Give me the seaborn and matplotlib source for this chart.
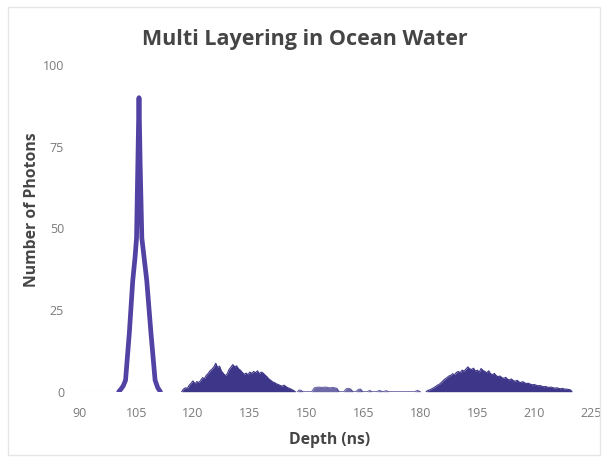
import numpy as np
import pandas as pd
import matplotlib
matplotlib.use("Agg")
import matplotlib.pyplot as plt
from matplotlib.patches import Rectangle
import seaborn as sns

# Surface return: a sharp single peak
spike_depth = [100.4, 101.0, 101.6, 102.2, 103.2, 104.1, 104.7, 105.1, 105.45, 105.75,
               106.05, 106.5, 107.2, 107.8, 108.9, 110.0, 110.7, 111.4]
spike_photons = [0.0, 0.8, 1.8, 3.5, 18.0, 34.0, 41.0, 47.0, 70.0, 90.0,
                 70.0, 47.0, 40.0, 34.0, 18.0, 3.5, 1.2, 0.0]

# First scattering layer (117 - 147 ns, 0.5 ns bins)
layer1_start, layer1_step = 117.0, 0.5
layer1_photons = [0.0, 0.8, 1.2, 1.0, 2.0, 2.6, 3.3, 2.4, 3.1, 2.8,
                  3.4, 4.3, 4.0, 5.0, 5.6, 6.4, 6.9, 7.6, 8.7, 7.4,
                  7.8, 6.3, 5.6, 4.9, 5.4, 6.8, 7.5, 8.3, 7.6, 7.9,
                  7.0, 6.6, 5.9, 5.3, 5.7, 5.2, 6.0, 5.6, 6.2, 5.8,
                  6.4, 5.5, 6.0, 5.7, 5.1, 4.6, 3.9, 3.5, 3.0, 2.8,
                  2.4, 2.2, 1.9, 1.7, 2.0, 1.6, 1.2, 1.0, 0.7, 0.4,
                  0.0]

# Sparse returns between the layers
sparse_depth = [147.5, 148.0, 148.5, 149.0, 151.3, 152.0, 153.0, 154.0, 155.0, 156.0,
                157.0, 158.0, 158.5, 159.8, 160.4, 161.0, 161.6, 162.2, 163.0, 163.6,
                164.2, 164.8, 166.0, 166.6, 167.2, 168.5, 169.2, 170.0, 171.0, 171.6,
                178.5, 179.2, 180.0]
sparse_photons = [0.0, 0.5, 0.4, 0.0, 0.0, 1.2, 1.4, 1.3, 1.4, 1.2,
                  1.3, 1.0, 0.0, 0.0, 0.9, 1.0, 0.8, 0.0, 0.0, 0.7,
                  0.8, 0.0, 0.0, 0.4, 0.0, 0.0, 0.4, 0.0, 0.3, 0.0,
                  0.0, 0.4, 0.0]

# Second scattering layer (181.5 - 220 ns, 0.5 ns bins)
layer2_start, layer2_step = 181.5, 0.5
layer2_photons = [0.0, 0.4, 0.6, 0.9, 1.2, 1.6, 2.0, 2.3, 2.8, 3.4,
                  3.9, 4.3, 4.8, 5.0, 5.5, 5.2, 5.9, 6.2, 5.8, 6.6,
                  6.3, 6.9, 7.6, 7.0, 6.8, 7.2, 6.3, 6.6, 6.0, 7.1,
                  6.5, 6.2, 5.8, 6.4, 5.5, 5.2, 5.6, 4.9, 4.6, 4.8,
                  4.3, 4.1, 4.4, 3.8, 3.6, 3.9, 3.4, 3.2, 3.5, 3.0,
                  2.8, 3.1, 2.7, 2.5, 2.6, 2.3, 2.1, 2.2, 2.0, 1.8,
                  1.9, 1.7, 1.5, 1.6, 1.4, 1.3, 1.4, 1.2, 1.1, 1.2,
                  1.0, 0.9, 1.0, 0.8, 0.8, 0.7, 0.6, 0.0]

x_ticks = [90, 105, 120, 135, 150, 165, 180, 195, 210, 225]
y_ticks = [0, 25, 50, 75, 100]

layer1_depth = layer1_start + layer1_step * np.arange(len(layer1_photons))
layer2_depth = layer2_start + layer2_step * np.arange(len(layer2_photons))

sns.set_style("white")
plt.rcParams["font.family"] = ["Open Sans", "DejaVu Sans"]

W, H = 605, 462
fig = plt.figure(figsize=(W / 100, H / 100), dpi=100)
ax = fig.add_axes([79.3 / W, 1 - 391.7 / H, (591 - 79.3) / W, (391.7 - 65) / H])

fill_col = "#3d3689"
spike_col = "#5142a3"

for depth, counts, alpha in [(layer1_depth, layer1_photons, 1.0),
                             (sparse_depth, sparse_photons, 0.75),
                             (layer2_depth, layer2_photons, 1.0)]:
    df = pd.DataFrame({"depth": depth, "photons": counts})
    ax.fill_between(df["depth"], 0, df["photons"], color=fill_col, alpha=alpha, lw=0)
    sns.lineplot(data=df, x="depth", y="photons", ax=ax, color=fill_col,
                 lw=0.8, alpha=alpha, sort=False, estimator=None)

spike_df = pd.DataFrame({"depth": spike_depth, "photons": spike_photons})
sns.lineplot(data=spike_df, x="depth", y="photons", ax=ax, color=spike_col,
             lw=3.4, sort=False, estimator=None,
             solid_joinstyle="round", solid_capstyle="round")

ax.axhline(0, color="#e6e6e6", lw=0.8, zorder=0)

ax.set_xlim(90, 225)
ax.set_ylim(0, 100)
ax.set_xticks(x_ticks)
ax.set_yticks(y_ticks)
ax.tick_params(axis="x", length=0, pad=11, labelsize=9, labelcolor="#7a7a7a")
ax.tick_params(axis="y", length=0, pad=11, labelsize=9, labelcolor="#7a7a7a")
for s in ax.spines.values():
    s.set_visible(False)
ax.set_xlabel("")
ax.set_ylabel("")

fig.text(305 / W, 1 - 40 / H, "Multi Layering in Ocean Water", ha="center", va="center",
         fontsize=15.5, fontweight="bold", color="#454545")
fig.text(330 / W, 1 - 440 / H, "Depth (ns)", ha="center", va="center",
         fontsize=11.3, fontweight="bold", color="#454545")
fig.text(32 / W, 1 - 210 / H, "Number of Photons", ha="center", va="center",
         rotation=90, fontsize=11.3, fontweight="bold", color="#454545")

fig.patches.append(Rectangle((8 / W, 1 - 455 / H), (600 - 8) / W, (455 - 7) / H,
                             transform=fig.transFigure, fill=False,
                             edgecolor="#e3e6e3", lw=1.0))

fig.savefig("out.png", dpi=100)
